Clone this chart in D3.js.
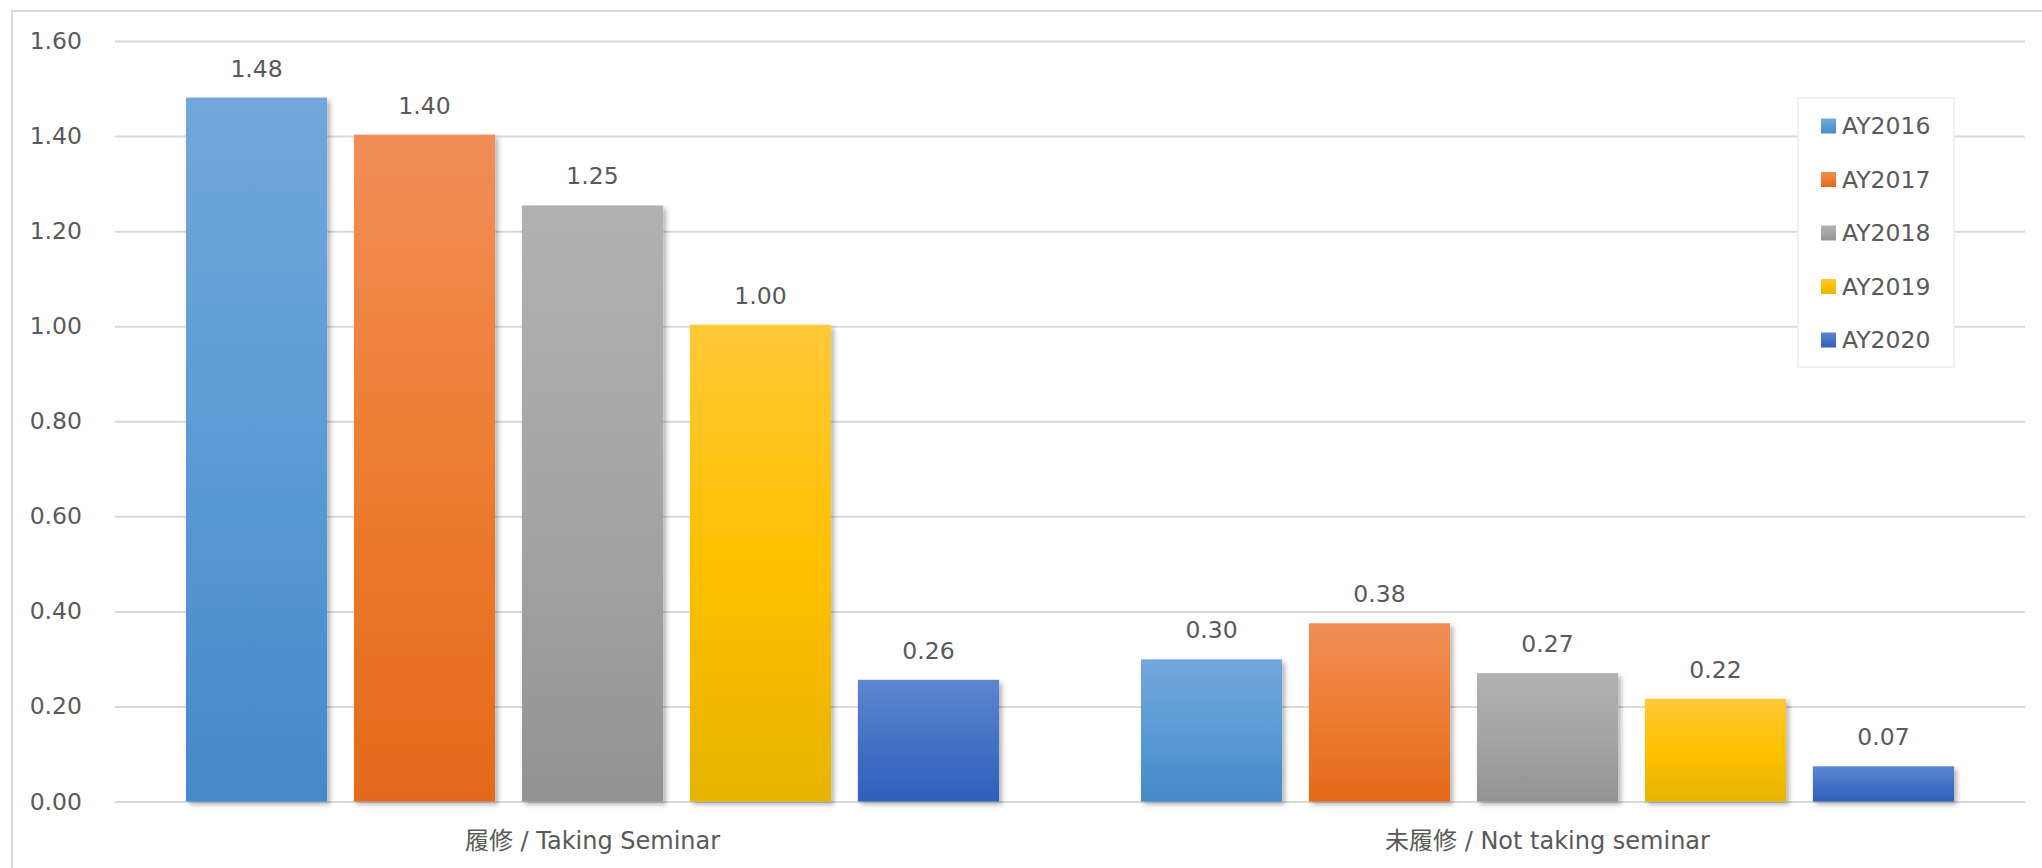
<!DOCTYPE html>
<html>
<head>
<meta charset="utf-8">
<script src="https://cdn.jsdelivr.net/npm/d3@7"></script>
<style>
  html, body { margin: 0; padding: 0; background: #fff; }
  svg { display: block; }
  text { font-family: "DejaVu Sans", "Noto Sans CJK JP", sans-serif; fill: #595959; }
</style>
</head>
<body>
<svg id="chart" width="2042" height="868"></svg>
<script>
// ---- data ----
const categories = ["履修 / Taking Seminar", "未履修 / Not taking seminar"];
const seriesNames = ["AY2016", "AY2017", "AY2018", "AY2019", "AY2020"];
const takingSeminar = [1.481, 1.403, 1.254, 1.003, 0.256];
const notTakingSeminar = [0.299, 0.375, 0.27, 0.216, 0.074];
const yTicks = [0, 0.2, 0.4, 0.6, 0.8, 1.0, 1.2, 1.4, 1.6];
const seriesColors = ["#5b9bd5", "#ed7d31", "#a5a5a5", "#ffc000", "#4472c4"];
const gradTop = ["#72a7dc", "#f18d57", "#b1b1b1", "#ffc938", "#5d86d2"];
const gradBottom = ["#4589c7", "#e4691a", "#939393", "#e6b400", "#2f5fbd"];

const values = [takingSeminar, notTakingSeminar];

const svg = d3.select("#chart");
const W = 2042, H = 868;

// outer border
svg.append("rect").attr("x", 12).attr("y", 11).attr("width", W).attr("height", H)
  .attr("fill", "#fff").attr("stroke", "#d9d9d9").attr("stroke-width", 2);

const plotLeft = 115, plotRight = 2025, plotTop = 41, plotBottom = 801.5;

const x0 = d3.scaleBand().domain(categories).range([plotLeft, plotRight])
  .paddingInner(0.1487).paddingOuter(0.1487 / 2);
const x1 = d3.scaleBand().domain(seriesNames).range([0, x0.bandwidth()])
  .paddingInner(0.16).paddingOuter(0);
const y = d3.scaleLinear().domain([0, 1.6]).range([plotBottom, plotTop]);

const defs = svg.append("defs");
seriesNames.forEach((s, i) => {
  const g = defs.append("linearGradient").attr("id", "grad" + i)
    .attr("x1", 0).attr("y1", 0).attr("x2", 0).attr("y2", 1);
  g.append("stop").attr("offset", "0%").attr("stop-color", gradTop[i]);
  g.append("stop").attr("offset", "50%").attr("stop-color", seriesColors[i]);
  g.append("stop").attr("offset", "100%").attr("stop-color", gradBottom[i]);
});
const f = defs.append("filter").attr("id", "shadow")
  .attr("x", "-10%").attr("y", "-10%").attr("width", "130%").attr("height", "130%");
f.append("feDropShadow").attr("dx", 3).attr("dy", 3).attr("stdDeviation", 2.5)
  .attr("flood-color", "#000").attr("flood-opacity", 0.3);

// gridlines
const yAxis = d3.axisLeft(y).tickValues(yTicks).tickFormat(d3.format(".2f"))
  .tickSize(-(plotRight - plotLeft)).tickPadding(33);
const gy = svg.append("g").attr("transform", `translate(${plotLeft},0)`).call(yAxis);
gy.select(".domain").remove();
gy.selectAll(".tick line").attr("stroke", "#d9d9d9").attr("stroke-width", 2);
gy.selectAll(".tick text").attr("font-size", "23.5px").attr("fill", "#595959");

// baseline
svg.append("line").attr("x1", plotLeft).attr("x2", plotRight)
  .attr("y1", y(0)).attr("y2", y(0))
  .attr("stroke", "#bfbfbf").attr("stroke-width", 2.5).attr("filter", "url(#shadow)");

// bars
const groups = svg.append("g").selectAll("g").data(categories).join("g")
  .attr("transform", d => `translate(${x0(d)},0)`);

groups.each(function(cat, ci) {
  const g = d3.select(this);
  const data = seriesNames.map((s, i) => ({ s, i, v: values[ci][i] }));
  g.selectAll("rect").data(data).join("rect")
    .attr("x", d => x1(d.s))
    .attr("y", d => y(d.v))
    .attr("width", x1.bandwidth())
    .attr("height", d => y(0) - y(d.v))
    .attr("fill", d => `url(#grad${d.i})`)
    .attr("filter", "url(#shadow)");
  g.selectAll("text").data(data).join("text")
    .attr("x", d => x1(d.s) + x1.bandwidth() / 2)
    .attr("y", d => y(d.v) - 21)
    .attr("text-anchor", "middle")
    .attr("font-size", "23.5px")
    .text(d => d.v.toFixed(2));
});

// category labels
const xAxis = d3.axisBottom(x0).tickSize(0).tickPadding(0);
const gx = svg.append("g").attr("transform", `translate(0,${plotBottom})`).call(xAxis);
gx.select(".domain").remove();
gx.selectAll(".tick text").attr("font-size", "24px").attr("fill", "#595959")
  .attr("dy", null).attr("y", 47.5);

// legend
const lg = svg.append("g");
lg.append("rect").attr("x", 1798).attr("y", 98).attr("width", 156).attr("height", 269)
  .attr("fill", "#fff").attr("stroke", "#f0f0f0").attr("stroke-width", 2);
const ly = d3.scalePoint().domain(seriesNames).range([126, 340]);
const items = lg.selectAll("g.item").data(seriesNames).join("g").attr("class", "item")
  .attr("transform", d => `translate(1821,${ly(d)})`);
items.append("rect").attr("x", 0).attr("y", -7.5).attr("width", 15).attr("height", 15)
  .attr("fill", (d, i) => `url(#grad${i})`);
items.append("text").attr("x", 21).attr("y", 0).attr("dy", "0.36em")
  .attr("font-size", "23.5px").text(d => d);
</script>
</body>
</html>
